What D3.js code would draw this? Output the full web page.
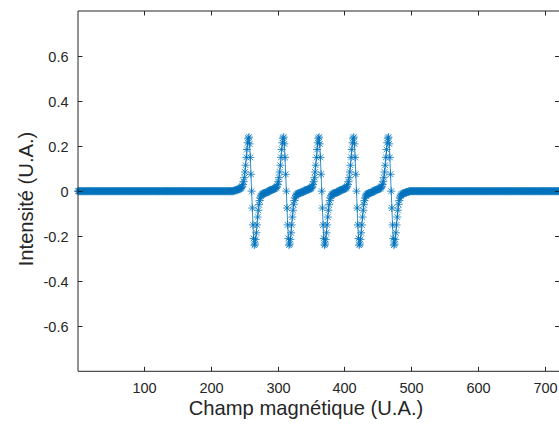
<!DOCTYPE html>
<html><head><meta charset="utf-8">
<script src="https://cdn.jsdelivr.net/npm/d3@7/dist/d3.min.js"></script>
<style>
html,body{margin:0;padding:0;background:#fff;overflow:hidden}
svg{display:block}
text{font-family:"Liberation Sans",Arial,sans-serif;fill:#262626}
</style></head>
<body>
<script>
// ---- data ----
const fieldFirst = 1, fieldLast = 721;           // one sample per field unit
const lineCenters = [261, 313, 366, 418, 470];    // zero crossings of the 5 lines
// lobe magnitude vs. offset from a line centre (0..26): + before centre, - after
const lobeProfile = [0, 0.075, 0.15, 0.21, 0.24, 0.235, 0.215, 0.185, 0.15, 0.115,
  0.085, 0.06, 0.042, 0.03, 0.022, 0.017, 0.014, 0.012, 0.010, 0.009,
  0.008, 0.007, 0.006, 0.005, 0.004, 0.003, 0.002];
const xTicks = [100, 200, 300, 400, 500, 600, 700];
const yTicks = [-0.6, -0.4, -0.2, 0, 0.2, 0.4, 0.6];
const xTickLabels = ["100", "200", "300", "400", "500", "600", "700"];
const yTickLabels = ["-0.6", "-0.4", "-0.2", "0", "0.2", "0.4", "0.6"];

const field = d3.range(fieldFirst, fieldLast + 1);
const data = field.map(f => {
  let v = 0;
  lineCenters.forEach(c => {
    const d = f - c, a = Math.abs(d);
    if (a < lobeProfile.length) v += (d < 0 ? 1 : -1) * lobeProfile[a];
  });
  return {x: f, y: v};
});

// ---- layout ----
const W = 559, H = 426;
const L = 78, R = 559.5, T = 11, B = 371.3;
const svg = d3.select("body").append("svg").attr("width", W).attr("height", H);
const x = d3.scaleLinear().domain([1, 722]).range([L, R]);
const y = d3.scaleLinear().domain([-0.8, 0.8]).range([B, T]);
const col = "#0072BD";

const g = svg.append("g");
// data line
g.append("path").datum(data)
  .attr("d", d3.line().x(d => x(d.x)).y(d => y(d.y)))
  .attr("fill", "none").attr("stroke", col).attr("stroke-width", 0.8);
// asterisk markers
const r = 4, rd = 2.9;
let p = "";
data.forEach(d => {
  const cx = x(d.x), cy = y(d.y);
  p += `M${cx-r},${cy}h${2*r}M${cx},${cy-r}v${2*r}` +
       `M${cx-rd},${cy-rd}l${2*rd},${2*rd}M${cx-rd},${cy+rd}l${2*rd},${-2*rd}`;
});
g.append("path").attr("d", p).attr("fill", "none").attr("stroke", col).attr("stroke-width", 0.8);

// axes box
const ax = svg.append("g");
const axCol = "#262626";
ax.append("line").attr("x1", L).attr("x2", L).attr("y1", T).attr("y2", B).attr("stroke", axCol);
ax.append("line").attr("x1", L).attr("x2", R).attr("y1", B).attr("y2", B).attr("stroke", axCol);
ax.append("line").attr("x1", L).attr("x2", R).attr("y1", T).attr("y2", T).attr("stroke", axCol);
ax.append("line").attr("x1", R).attr("x2", R).attr("y1", T).attr("y2", B).attr("stroke", axCol);

const tl = 4.5;
xTicks.forEach((t, i) => {
  const px = Math.round(x(t)) + 0.5;
  ax.append("line").attr("x1", px).attr("x2", px).attr("y1", B).attr("y2", B - tl).attr("stroke", axCol);
  ax.append("line").attr("x1", px).attr("x2", px).attr("y1", T).attr("y2", T + tl).attr("stroke", axCol);
  ax.append("text").attr("x", px).attr("y", 392.5).attr("text-anchor", "middle")
    .attr("font-size", 14.5).text(xTickLabels[i]);
});
yTicks.forEach((t, i) => {
  const py = Math.round(y(t)) + 0.5;
  ax.append("line").attr("x1", L).attr("x2", L + tl).attr("y1", py).attr("y2", py).attr("stroke", axCol);
  ax.append("line").attr("x1", R).attr("x2", R - tl).attr("y1", py).attr("y2", py).attr("stroke", axCol);
  ax.append("text").attr("x", 68.5).attr("y", py + 5.2).attr("text-anchor", "end")
    .attr("font-size", 14.5).text(yTickLabels[i]);
});

svg.append("text").attr("x", 306).attr("y", 415).attr("text-anchor", "middle")
  .attr("font-size", 20.2).text("Champ magnétique (U.A.)");
svg.append("text").attr("transform", "translate(32.8,199) rotate(-90)").attr("text-anchor", "middle")
  .attr("font-size", 20.2).text("Intensité (U.A.)");
</script>
</body></html>
